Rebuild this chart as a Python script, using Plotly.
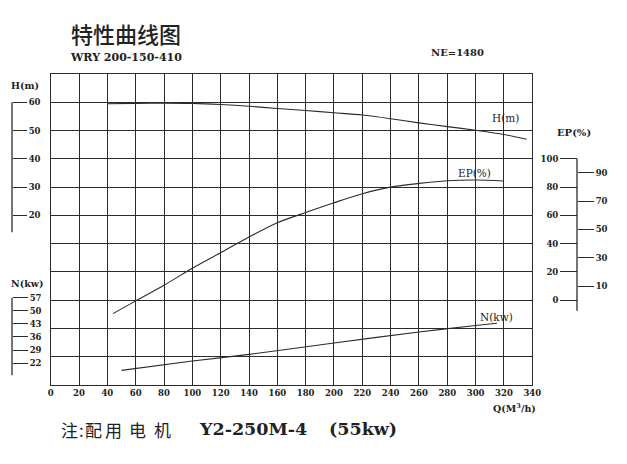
import plotly.graph_objects as go

W, Hh = 627, 464
OFF = 8  # page body margin compensation

# ---------------- data ----------------
q_ticks = list(range(0, 341, 20))

q_head = [40, 60, 80, 100, 120, 140, 160, 180, 200, 220, 240, 260, 280, 300, 320, 336]
head_m = [59.5, 59.6, 59.7, 59.6, 59.2, 58.6, 57.8, 57.1, 56.3, 55.5, 54.2, 52.7, 51.4, 50.1, 48.6, 46.9]

q_eff = [44, 60, 80, 100, 120, 140, 160, 180, 200, 220, 240, 260, 280, 300, 320]
eff_pct = [-9.5, -0.5, 10.6, 22.6, 33.6, 44.7, 54.8, 62.0, 68.9, 75.3, 80.0, 82.6, 84.5, 85.0, 84.3]

q_pow = [50, 100, 140, 200, 260, 300, 315]
pow_kw = [18.2, 23.2, 26.7, 32.8, 38.7, 42.1, 43.3]

h_scale_ticks = [20, 30, 40, 50, 60]
ep_left_ticks = [0, 20, 40, 60, 80, 100]
ep_right_ticks = [10, 30, 50, 70, 90]
n_scale_ticks = [22, 29, 36, 43, 50, 57]

# ---------------- layout geometry ----------------
x_left, x_right = 50.7, 532.3
y_top, y_bot = 74, 385
H_RANGE = [-40, 70]
EP_RANGE = [-60, 160]
N_RANGE = [10.38, 176.33]

def px(x):
    return (x - OFF) / W

def py(y):
    return 1 - (y - OFF) / Hh

ink = "#2b2b2b"
serif = "DejaVu Serif"
cjk = "Noto Sans CJK SC"

fig = go.Figure()
line_style = dict(color=ink, width=1.1, shape="spline", smoothing=0.8)
fig.add_trace(go.Scatter(x=q_head, y=head_m, mode="lines", line=line_style, yaxis="y", hoverinfo="skip"))
fig.add_trace(go.Scatter(x=q_eff, y=eff_pct, mode="lines", line=line_style, yaxis="y3", hoverinfo="skip"))
fig.add_trace(go.Scatter(x=q_pow, y=pow_kw, mode="lines", line=line_style, yaxis="y5", hoverinfo="skip"))

tickfont = dict(family=serif, size=8.5, color="#222", weight="bold")
free_common = dict(overlaying="y", anchor="free", showgrid=False, zeroline=False, showline=False,
                   ticks="outside", tickcolor=ink, tickwidth=1.2, tickfont=tickfont, tickmode="array",
                   automargin=False)

fig.update_layout(
    width=W, height=Hh, autosize=False,
    margin=dict(l=0, r=0, t=0, b=0, pad=0, autoexpand=False),
    paper_bgcolor="white", plot_bgcolor="white",
    showlegend=False,
    xaxis=dict(domain=[px(x_left), px(x_right)], range=[0, 340], tickmode="array", tickvals=q_ticks,
               showgrid=True, gridcolor=ink, gridwidth=1.2, showline=True, mirror=True,
               linecolor=ink, linewidth=1.2, zeroline=False, ticks="", tickfont=tickfont, anchor="y",
               automargin=False),
    yaxis=dict(domain=[py(y_bot), py(y_top)], range=H_RANGE, tickmode="linear", tick0=0, dtick=10,
               showgrid=True, gridcolor=ink, gridwidth=1.2, showline=True, mirror=True,
               linecolor=ink, linewidth=1.2, zeroline=False, showticklabels=False, ticks="",
               automargin=False),
    yaxis2=dict(range=H_RANGE, position=px(12), side="right", tickvals=h_scale_ticks, ticklen=14, **free_common),
    yaxis3=dict(range=EP_RANGE, position=px(577), side="left", tickvals=ep_left_ticks, ticklen=17, **free_common),
    yaxis4=dict(range=EP_RANGE, position=px(577), side="right", tickvals=ep_right_ticks, ticklen=16, **free_common),
    yaxis5=dict(range=N_RANGE, position=px(12), side="right", tickvals=n_scale_ticks, ticklen=15, **free_common),
)

# dummy traces so the free axes render
fig.add_trace(go.Scatter(x=[None], y=[None], yaxis="y2", showlegend=False))
fig.add_trace(go.Scatter(x=[None], y=[None], yaxis="y4", showlegend=False))

# scale spines
fig.add_shape(type="line", xref="paper", yref="y", x0=px(12), x1=px(12), y0=14, y1=60,
              line=dict(color=ink, width=1.3))
fig.add_shape(type="line", xref="paper", yref="y5", x0=px(12), x1=px(12), y0=15.6, y1=57,
              line=dict(color=ink, width=1.3))
fig.add_shape(type="line", xref="paper", yref="y3", x0=px(577), x1=px(577), y0=-7.5, y1=100,
              line=dict(color=ink, width=1.3))

def ann(text, x, y, size, family=serif, bold=True, xanchor="center", xref="paper", yref="paper", weight=None):
    t = f"<b>{text}</b>" if bold else text
    f = dict(family=family, size=size, color="#222")
    if weight is not None:
        f["weight"] = weight
    fig.add_annotation(text=t, x=x, y=y, xref=xref, yref=yref, showarrow=False,
                       xanchor=xanchor, yanchor="middle", font=f)

# titles
ann("特性曲线图", px(126), py(33), 22, family=cjk, bold=False, weight=500)
ann("WRY 200-150-410", px(68), py(57), 11, xanchor="left")
ann("NE=1480", px(457), py(53), 10)
ann("H(m)", px(9), py(85), 9.5, xanchor="left")
ann("N(kw)", px(9), py(283), 9.5, xanchor="left")
ann("EP(%)", px(574), py(133), 10)
ann("Q(M<sup>3</sup>/h)", px(514), py(408), 9.5)

# curve labels
ann("H(m)", 321.4, 54.6, 10.5, bold=False, xref="x", yref="y")
ann("EP(%)", 299.5, 90, 10.5, bold=False, xref="x", yref="y3")
ann("N(kw)", 315, 46.8, 10.5, bold=False, xref="x", yref="y5")

# footnote
for ch, cx in [("注", 70), (":", 81), ("配", 93), ("用", 113), ("电", 137), ("机", 162)]:
    ann(ch, px(cx), py(429), 17, family=cjk, bold=False)
ann("Y2-250M-4", px(197), py(429), 17.5, xanchor="left")
ann("(55kw)", px(327), py(429), 17.5, xanchor="left")

fig.write_html("out.html")
